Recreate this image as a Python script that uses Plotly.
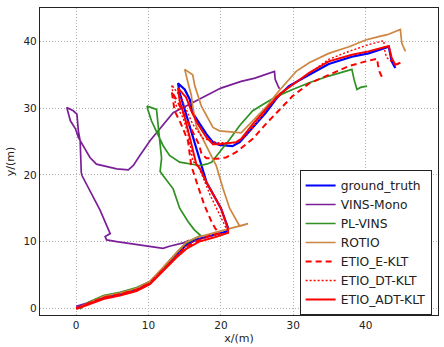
import plotly.graph_objects as go

# ---------------- data ----------------
gt_x = [0.0, 1.5, 3.76, 6.05, 8.35, 10.2, 12.0, 13.85, 15.2, 16.6, 18.9, 20.8, 21.0, 20.0, 18.0, 17.06, 16.5, 15.7, 14.8, 14.3, 14.07,
        15.0, 15.7, 16.1, 17.1, 18.0, 18.9, 19.8, 21.6, 22.6, 24.4, 26.2, 27.8, 29.4, 32.2, 34.9, 38.1, 40.4, 43.2, 43.6, 44.1]
gt_y = [0.0, 0.6, 1.6, 2.1, 2.8, 3.8, 5.8, 8.0, 9.5, 10.3, 11.0, 11.5, 12.0, 15.0, 18.9, 22.4, 24.5, 27.3, 30.5, 32.3, 33.7,
        32.8, 31.3, 29.3, 27.6, 26.1, 24.9, 24.5, 24.3, 24.9, 27.1, 29.3, 31.6, 33.3, 35.0, 36.6, 37.7, 38.2, 39.2, 37.0, 36.0]

vins_x = [0.0, 1.5, 3.76, 6.05, 8.35, 10.2, 12.0, 13.85, 15.0, 15.6, 14.8, 12.9, 12.0, 5.6, 4.2, 4.0, 4.7, 3.3, 1.9, 0.8, 0.7,
          0.55, 0.3, 0.1, -0.4, -1.3, -0.8, -0.1, 0.3, 1.2, 1.9, 2.8, 5.6, 7.2, 7.9, 8.8, 10.2, 13.4, 15.2, 17.06, 20.0,
          22.8, 24.7, 27.4, 27.5, 27.9, 28.1]
vins_y = [0.3, 0.8, 1.8, 2.3, 3.0, 4.0, 6.0, 8.3, 9.6, 10.2, 9.8, 9.3, 9.0, 10.0, 10.25, 10.75, 11.2, 14.7, 17.7, 19.9, 20.4,
          25.1, 26.6, 29.1, 29.6, 30.1, 28.1, 26.9, 25.6, 23.9, 22.6, 21.6, 20.9, 20.75, 21.4, 22.9, 25.1, 29.3, 30.3, 31.3, 33.0,
          34.0, 34.5, 35.5, 34.3, 33.3, 32.9]

pl_x = [0.5, 1.5, 3.76, 6.05, 8.35, 10.2, 12.0, 13.85, 15.2, 16.6, 17.2, 16.3, 15.45, 14.3, 13.85, 13.4, 12.0, 11.6, 11.8, 11.55,
        11.3, 11.1, 9.8, 9.9, 10.4, 11.1, 12.0, 12.9, 14.3, 17.06, 18.0, 18.7, 19.8, 21.2, 22.6, 24.4, 26.2, 27.8, 29.9, 32.2,
        34.9, 38.1, 38.4, 38.8, 39.3, 40.2]
pl_y = [-0.1, 0.8, 1.9, 2.4, 3.1, 4.0, 6.0, 8.3, 9.8, 10.5, 10.9, 11.8, 13.0, 15.0, 16.4, 17.9, 19.9, 20.5, 22.5, 24.9,
        27.8, 29.8, 30.3, 29.8, 28.1, 26.4, 24.4, 22.9, 21.9, 21.4, 21.6, 21.9, 23.4, 25.3, 27.4, 29.6, 30.8, 31.8, 32.8, 33.8,
        34.8, 35.8, 34.3, 32.8, 33.1, 33.3]

ro_x = [0.2, 1.5, 3.76, 6.05, 8.35, 10.2, 12.0, 13.85, 15.2, 16.6, 18.9, 20.7, 23.75, 22.6, 21.2, 20.3, 19.35, 17.5, 16.6, 16.1,
        15.9, 15.45, 15.0, 16.1, 16.4, 17.3, 18.9, 19.8, 21.6, 22.8, 24.4, 26.2, 27.8, 29.0, 30.4, 32.2, 34.9, 37.7, 40.0, 41.8,
        43.0, 44.8, 45.0, 45.5]
ro_y = [0.0, 0.7, 1.8, 2.3, 3.0, 4.0, 6.1, 8.4, 9.9, 10.6, 11.3, 11.8, 12.7, 12.3, 15.0, 17.9, 21.4, 25.4, 27.3, 30.3,
        32.0, 33.8, 35.8, 35.0, 33.3, 30.3, 27.1, 26.6, 26.4, 26.3, 28.1, 30.1, 32.3, 33.8, 35.5, 36.8, 38.2, 39.2, 40.2, 40.7,
        41.0, 41.8, 39.7, 38.5]

ek_x = [0.0, 1.5, 3.76, 6.05, 8.35, 10.2, 12.0, 13.85, 15.2, 16.6, 18.5, 19.8, 19.2, 18.7, 17.7, 16.8, 15.9, 15.45, 14.5, 13.6,
        13.3, 13.2, 14.0, 14.9, 16.0, 17.0, 17.3, 18.0, 19.4, 20.7, 22.1, 24.4, 26.2, 28.1, 29.9, 32.2, 34.9, 37.7, 40.0, 41.6,
        41.7, 41.9, 42.4]
ek_y = [0.0, 0.6, 1.6, 2.1, 2.8, 3.8, 5.7, 7.8, 9.2, 10.0, 10.9, 11.2, 12.0, 13.0, 15.5, 18.4, 21.4, 25.1, 27.6, 29.6,
        31.5, 32.5, 31.0, 29.0, 26.5, 24.5, 23.2, 22.5, 22.4, 22.6, 23.4, 25.4, 27.6, 29.8, 31.8, 33.7, 35.0, 36.3, 37.0, 37.4,
        36.5, 35.5, 34.3]

dt_x = [0.0, 1.5, 3.76, 6.05, 8.35, 10.2, 12.0, 13.85, 15.2, 16.6, 18.9, 20.9, 21.0, 20.5, 18.5, 17.0, 16.1, 15.9, 15.45, 14.76,
        13.85, 13.4, 13.2, 14.5, 16.1, 17.5, 19.5, 22.2, 23.5, 25.3, 27.1, 29.0, 31.3, 34.9, 37.7, 40.4, 42.5, 42.7, 43.0,
        44.1, 44.8]
dt_y = [0.0, 0.6, 1.6, 2.1, 2.8, 3.8, 5.8, 8.0, 9.4, 10.2, 10.9, 11.3, 11.4, 12.5, 17.0, 21.0, 22.1, 23.6, 26.1, 28.6,
        30.3, 32.0, 33.5, 31.5, 27.6, 25.5, 24.8, 24.8, 25.9, 28.3, 30.8, 32.8, 34.5, 37.3, 38.5, 39.5, 40.1, 38.2, 37.5,
        36.5, 36.6]

adt_x = [0.0, 1.5, 3.76, 6.05, 8.35, 10.2, 12.0, 13.85, 15.2, 17.0, 19.0, 21.0, 20.95, 20.0, 18.0, 17.06, 16.6, 16.1, 15.7, 15.0,
         14.3, 14.07, 15.2, 15.9, 16.8, 18.0, 18.9, 19.8, 22.1, 22.8, 24.4, 26.2, 28.1, 29.9, 32.2, 34.9, 38.1, 40.4, 43.2,
         43.6, 44.1, 44.8]
adt_y = [-0.1, 0.5, 1.4, 1.9, 2.6, 3.6, 5.6, 7.6, 8.9, 10.0, 10.6, 11.3, 12.0, 15.0, 18.9, 21.0, 21.6, 23.6, 25.6, 28.6,
         31.1, 33.0, 31.6, 29.6, 27.6, 25.6, 24.6, 24.6, 24.9, 25.4, 27.6, 29.8, 32.1, 33.5, 35.3, 37.0, 38.0, 38.5, 39.3,
         37.5, 36.5, 36.8]

series = [
    ("ground_truth", gt_x, gt_y),
    ("VINS-Mono", vins_x, vins_y),
    ("PL-VINS", pl_x, pl_y),
    ("ROTIO", ro_x, ro_y),
    ("ETIO_E-KLT", ek_x, ek_y),
    ("ETIO_DT-KLT", dt_x, dt_y),
    ("ETIO_ADT-KLT", adt_x, adt_y),
]

x_ticks = [0, 10, 20, 30, 40, 50]
y_ticks = [0, 10, 20, 30, 40]

# ---------------- styles ----------------
styles = {
    "ground_truth": dict(color="#0000ff", width=2.2, dash="solid"),
    "VINS-Mono": dict(color="#7b1f98", width=1.7, dash="solid"),
    "PL-VINS": dict(color="#2e9122", width=1.7, dash="solid"),
    "ROTIO": dict(color="#cd853f", width=1.7, dash="solid"),
    "ETIO_E-KLT": dict(color="#ff0000", width=2, dash="6px,4px"),
    "ETIO_DT-KLT": dict(color="#ff0000", width=1.4, dash="2px,2px"),
    "ETIO_ADT-KLT": dict(color="#ff0000", width=2, dash="solid"),
}

fig = go.Figure()
for name, xs, ys in series:
    fig.add_trace(go.Scatter(x=xs, y=ys, mode="lines", name=name, line=styles[name]))

axis_common = dict(
    showgrid=True, gridcolor="#b0b0b0", gridwidth=1, griddash="1px,2px",
    zeroline=False, showline=True, linecolor="#222222", linewidth=1.2, mirror=True,
    ticks="", tickfont=dict(family="DejaVu Sans", size=10.5, color="#222"),
)
fig.update_xaxes(range=[-5, 50], tickvals=x_ticks, title=dict(text="x/(m)", standoff=4,
                 font=dict(family="DejaVu Sans", size=11, color="#222")), **axis_common)
fig.update_yaxes(range=[-1, 45], tickvals=y_ticks, title=dict(text="y/(m)", standoff=6,
                 font=dict(family="DejaVu Sans", size=11, color="#222")), **axis_common)

fig.update_layout(
    width=444, height=347,
    margin=dict(l=40, r=5, t=8, b=30),
    paper_bgcolor="white", plot_bgcolor="white",
    font=dict(family="DejaVu Sans", color="#222"),
    legend=dict(
        x=0.984, y=0.0, xanchor="right", yanchor="bottom",
        bgcolor="white", bordercolor="#222", borderwidth=1,
        font=dict(family="DejaVu Sans", size=12.3, color="#222"),
        tracegroupgap=0, itemwidth=30,
    ),
    showlegend=True,
)

fig.write_html("out.html")
